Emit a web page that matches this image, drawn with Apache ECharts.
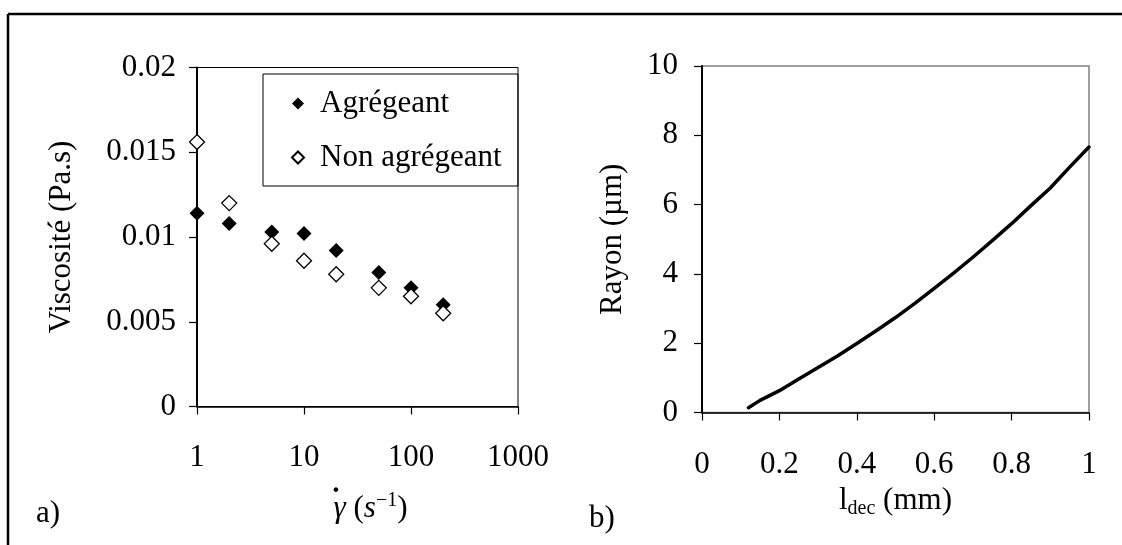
<!DOCTYPE html>
<html>
<head>
<meta charset="utf-8">
<script src="https://cdn.jsdelivr.net/npm/echarts@6/dist/echarts.min.js"></script>
<style>
html,body{margin:0;padding:0;background:#fff;}
#chart{width:1122px;height:545px;}
</style>
</head>
<body>
<div id="chart"></div>
<script>
// ---- data ----
const shearRates = [1, 2, 5, 10, 20, 50, 100, 200];
const agregeant = [0.0114, 0.0108, 0.0103, 0.0102, 0.0092, 0.0079, 0.0070, 0.0060];
const nonAgregeant = [0.0156, 0.0120, 0.0096, 0.0086, 0.0078, 0.0070, 0.0065, 0.0055];
const viscTicks = ['0', '0.005', '0.01', '0.015', '0.02'];
const shearTicks = ['1', '10', '100', '1000'];

const ldec = [0.12, 0.15, 0.2, 0.25, 0.3, 0.35, 0.4, 0.45, 0.5, 0.55, 0.6, 0.65, 0.7, 0.75, 0.8, 0.85, 0.9, 0.95, 1.0];
const rayon = [0.14, 0.35, 0.63, 0.97, 1.30, 1.63, 1.99, 2.36, 2.74, 3.15, 3.58, 4.02, 4.48, 4.96, 5.45, 5.97, 6.48, 7.08, 7.66];

const seriesNames = ['Agrégeant', 'Non agrégeant'];
const panelLabels = ['a)', 'b)'];

// ---- chart ----
const FONT = '"Liberation Serif", "Times New Roman", serif';
const FS = 31;
const chart = echarts.init(document.getElementById('chart'), null, {renderer: 'canvas'});

const baseText = {fontFamily: FONT, fontSize: FS, color: '#000'};

function axisCommon() {
  return {
    axisLine: {show: true, onZero: false, lineStyle: {color: '#000', width: 1.5}},
    axisTick: {show: true, inside: false, length: 8, lineStyle: {color: '#000', width: 1.2}},
    splitLine: {show: false},
    axisLabel: Object.assign({}, baseText),
    nameTextStyle: Object.assign({}, baseText)
  };
}

const option = {
  animation: false,
  backgroundColor: '#fff',
  textStyle: {fontFamily: FONT},
  grid: [
    {left: 197, top: 67.5, width: 321, height: 339, show: true, borderColor: '#000', borderWidth: 1, backgroundColor: 'transparent'},
    {left: 702, top: 66, width: 387, height: 346.5, show: true, borderColor: '#808080', borderWidth: 1.5, backgroundColor: 'transparent'}
  ],
  xAxis: [
    Object.assign(axisCommon(), {
      gridIndex: 0, type: 'log', logBase: 10, min: 1, max: 1000,
      minorTick: {show: false},
      axisLabel: Object.assign({}, baseText, {margin: 36, formatter: function (v) { return shearTicks[Math.round(Math.log10(v))]; }}),
      name: '{g|γ}{t| (}{s|s}{sup|−1}{t|)}',
      nameLocation: 'middle', nameGap: 84,
      nameTextStyle: {
        padding: [0, 0, 0, 26],
        rich: {
          g: {fontFamily: FONT, fontSize: FS, fontStyle: 'italic', lineHeight: 36, color: '#000'},
          t: {fontFamily: FONT, fontSize: FS, lineHeight: 36, color: '#000'},
          s: {fontFamily: FONT, fontSize: FS, fontStyle: 'italic', lineHeight: 36, color: '#000'},
          sup: {fontFamily: FONT, fontSize: 20, lineHeight: 21, verticalAlign: 'top', color: '#000'}
        }
      }
    }),
    Object.assign(axisCommon(), {
      gridIndex: 1, type: 'value', min: 0, max: 1, interval: 0.2,
      axisLabel: Object.assign({}, baseText, {margin: 37}),
      name: '{l|l}{sub|dec}{l| (mm)}',
      nameLocation: 'middle', nameGap: 66,
      nameTextStyle: {
        rich: {
          l: {fontFamily: FONT, fontSize: FS, lineHeight: 36, color: '#000'},
          sub: {fontFamily: FONT, fontSize: 20, lineHeight: 20, verticalAlign: 'bottom', color: '#000'}
        }
      }
    })
  ],
  yAxis: [
    Object.assign(axisCommon(), {
      gridIndex: 0, type: 'value', min: 0, max: 0.02, interval: 0.005,
      axisLine: {show: true, onZero: false, lineStyle: {color: '#000', width: 2}},
      axisLabel: Object.assign({}, baseText, {margin: 21, formatter: function (v) { return viscTicks[Math.round(v / 0.005)]; }}),
      name: 'Viscosité (Pa.s)', nameLocation: 'middle', nameRotate: 90, nameGap: 120
    }),
    Object.assign(axisCommon(), {
      gridIndex: 1, type: 'value', min: 0, max: 10, interval: 2,
      axisLine: {show: true, onZero: false, lineStyle: {color: '#000', width: 2}},
      axisLabel: Object.assign({}, baseText, {margin: 24}),
      name: 'Rayon (µm)', nameLocation: 'middle', nameRotate: 90, nameGap: 74
    })
  ],
  legend: {
    show: true,
    orient: 'vertical',
    left: 291, top: 88,
    itemWidth: 12, itemHeight: 12, itemGap: 23,
    padding: 0,
    selectedMode: false,
    data: seriesNames,
    textStyle: {fontFamily: FONT, fontSize: FS, lineHeight: 31, color: '#000', padding: [0, 0, 0, 11]}
  },
  graphic: [
    {type: 'rect', z: 3, shape: {x: 263, y: 74, width: 255, height: 112}, style: {fill: 'none', stroke: '#000', lineWidth: 1}},
    {type: 'line', z: 10, shape: {x1: 8, y1: 14, x2: 1122, y2: 14}, style: {stroke: '#000', lineWidth: 2.5}},
    {type: 'line', z: 10, shape: {x1: 8, y1: 14, x2: 8, y2: 545}, style: {stroke: '#000', lineWidth: 2.5}},
    {type: 'text', z: 10, x: 336, y: 501, style: {text: '˙', font: 'bold ' + FS + 'px ' + FONT, fill: '#000', align: 'center', verticalAlign: 'middle'}},
    {type: 'text', z: 10, left: 36, top: 498, style: {text: panelLabels[0], font: FS + 'px ' + FONT, fill: '#000'}},
    {type: 'text', z: 10, left: 589, top: 503, style: {text: panelLabels[1], font: FS + 'px ' + FONT, fill: '#000'}}
  ],
  series: [
    {
      name: seriesNames[0], type: 'scatter', xAxisIndex: 0, yAxisIndex: 0, clip: false,
      symbol: 'diamond', symbolSize: 15,
      itemStyle: {color: '#000', opacity: 1},
      data: shearRates.map(function (x, i) { return [x, agregeant[i]]; }),
      z: 5
    },
    {
      name: seriesNames[1], type: 'scatter', xAxisIndex: 0, yAxisIndex: 0, clip: false,
      symbol: 'diamond', symbolSize: 15,
      itemStyle: {color: '#fff', borderColor: '#000', borderWidth: 1.3, opacity: 1},
      data: shearRates.map(function (x, i) { return [x, nonAgregeant[i]]; }),
      z: 5
    },
    {
      name: 'Rayon', type: 'line', xAxisIndex: 1, yAxisIndex: 1,
      showSymbol: false, symbol: 'none', smooth: false,
      lineStyle: {color: '#000', width: 3.5, cap: 'round', join: 'round'},
      data: ldec.map(function (x, i) { return [x, rayon[i]]; }),
      z: 4
    }
  ]
};
chart.setOption(option);
</script>
</body>
</html>
